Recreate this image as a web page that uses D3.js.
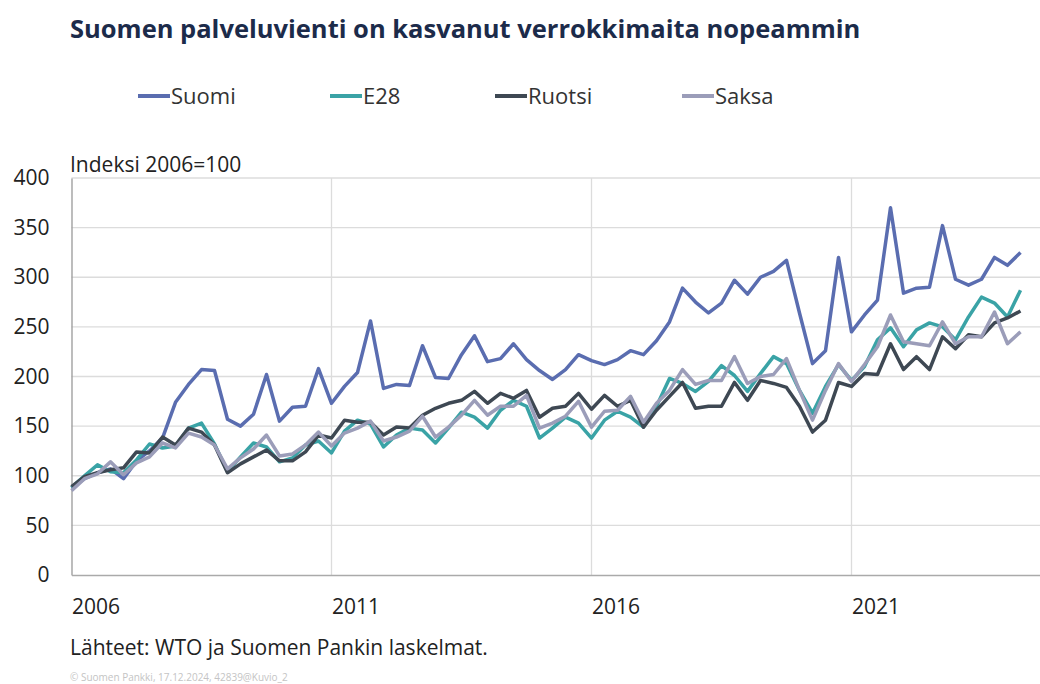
<!DOCTYPE html>
<html>
<head>
<meta charset="utf-8">
<script src="https://cdn.jsdelivr.net/npm/d3@7"></script>
<style>
  body { margin: 0; background: #fff; }
  svg { display: block; font-family: "Open Sans", sans-serif; }
</style>
</head>
<body>
<svg id="chart"></svg>
<script>
// Quarterly index values, 2006 Q1 .. 2024 Q2 (2006=100)
const startYear = 2006;
const suomi = [88, 97, 103, 107, 97, 115, 125, 138, 174, 192, 207, 206, 157, 150, 162, 202,
  155, 169, 170, 208, 173, 190, 204, 256, 188, 192, 191, 231, 199, 198, 222, 241,
  215, 218, 233, 217, 206, 197, 207, 222, 216, 212, 217, 226, 222, 236, 255, 289,
  275, 264, 274, 297, 283, 300, 306, 317, 264, 213, 226, 320, 245, 262, 277, 370,
  284, 289, 290, 352, 298, 292, 298, 320, 312, 325];
const e28 = [88, 100, 111, 104, 103, 116, 132, 128, 130, 148, 153, 132, 104, 119, 133, 129,
  114, 118, 131, 135, 123, 145, 156, 152, 129, 141, 148, 146, 133, 148, 164, 159,
  148, 166, 176, 170, 138, 148, 159, 153, 138, 156, 165, 159, 149, 170, 198, 193,
  185, 195, 211, 201, 185, 203, 220, 213, 186, 163, 190, 212, 196, 210, 237, 249,
  230, 247, 254, 250, 237, 260, 280, 274, 260, 287];
const ruotsi = [89, 99, 103, 106, 108, 124, 123, 139, 131, 148, 144, 131, 103, 112, 119, 126,
  115, 115, 124, 141, 138, 156, 154, 154, 141, 149, 148, 161, 168, 173, 176, 185,
  173, 183, 178, 186, 159, 168, 170, 183, 167, 181, 170, 176, 149, 166, 180, 194,
  168, 170, 170, 194, 176, 196, 193, 189, 170, 144, 156, 194, 190, 203, 202, 233,
  207, 220, 207, 240, 228, 242, 240, 254, 259, 266];
const saksa = [85, 97, 102, 114, 101, 113, 119, 133, 128, 143, 139, 131, 107, 118, 127, 141,
  120, 122, 131, 144, 130, 143, 148, 155, 135, 139, 145, 160, 139, 149, 161, 176,
  161, 170, 170, 181, 148, 153, 160, 175, 149, 165, 166, 180, 154, 173, 186, 207,
  192, 196, 196, 220, 193, 200, 202, 218, 186, 156, 186, 213, 195, 212, 230, 262,
  235, 233, 231, 255, 233, 240, 240, 265, 233, 245];

const seriesNames = ["Suomi", "E28", "Ruotsi", "Saksa"];
const seriesColors = ["#5a6db0", "#3aa3a6", "#3e4853", "#9b9db9"];
const yTicks = [0, 50, 100, 150, 200, 250, 300, 350, 400];
const xTicks = [2006, 2011, 2016, 2021];

const width = 1040;
const height = 684;
const svg = d3.select("#chart").attr("width", width).attr("height", height);

const x = d3.scaleLinear().domain([2006, 2024.625]).range([71.5, 1040]);
const y = d3.scaleLinear().domain([0, 400]).range([575, 178]);

// Title
svg.append("text")
  .attr("x", 70).attr("y", 38)
  .attr("font-size", 25.5).attr("font-weight", "bold")
  .attr("fill", "#1c2b4a")
  .text("Suomen palveluvienti on kasvanut verrokkimaita nopeammin");

// Legend
const legendX = [138, 330, 495, 682];
const legend = svg.append("g");
seriesNames.forEach((name, i) => {
  legend.append("line")
    .attr("x1", legendX[i]).attr("x2", legendX[i] + 32)
    .attr("y1", 96).attr("y2", 96)
    .attr("stroke", seriesColors[i]).attr("stroke-width", 4);
  legend.append("text")
    .attr("x", legendX[i] + 33).attr("y", 104)
    .attr("font-size", 22).attr("fill", "#333")
    .text(name);
});

// Gridlines
svg.append("g")
  .selectAll("line")
  .data(yTicks.filter(d => d > 0))
  .enter().append("line")
  .attr("x1", x.range()[0]).attr("x2", x.range()[1])
  .attr("y1", d => y(d)).attr("y2", d => y(d))
  .attr("stroke", "#dcdcdc").attr("stroke-width", 1.3);

svg.append("g")
  .selectAll("line")
  .data(xTicks.slice(1))
  .enter().append("line")
  .attr("x1", d => x(d)).attr("x2", d => x(d))
  .attr("y1", y(400)).attr("y2", y(0))
  .attr("stroke", "#dcdcdc").attr("stroke-width", 1.3);

// Y axis
const yAxis = svg.append("g")
  .attr("transform", `translate(${x.range()[0]},0)`)
  .call(d3.axisLeft(y).tickValues(yTicks).tickSize(0).tickPadding(22));
yAxis.select(".domain").attr("stroke", "#999").attr("stroke-width", 1.3);
yAxis.selectAll("text")
  .attr("font-size", 21).attr("fill", "#222")
  .attr("font-family", "\"Open Sans\", sans-serif");

// X axis
const xAxis = svg.append("g")
  .attr("transform", `translate(0,${y(0)})`)
  .call(d3.axisBottom(x).tickValues(xTicks).tickFormat(d3.format("d")).tickSize(0).tickPadding(24));
xAxis.select(".domain").attr("stroke", "#aaa").attr("stroke-width", 1.3);
xAxis.selectAll("text")
  .attr("font-size", 21).attr("fill", "#222")
  .attr("text-anchor", "start")
  .attr("font-family", "\"Open Sans\", sans-serif");

// Axis caption
svg.append("text")
  .attr("x", 70).attr("y", 172)
  .attr("font-size", 21).attr("fill", "#222")
  .text("Indeksi 2006=100");

// Lines
const line = d3.line()
  .x((d, i) => x(startYear + i / 4))
  .y(d => y(d));

[suomi, e28, ruotsi, saksa].forEach((values, i) => {
  svg.append("path")
    .datum(values)
    .attr("d", line)
    .attr("fill", "none")
    .attr("stroke", seriesColors[i])
    .attr("stroke-width", 3.5)
    .attr("stroke-linejoin", "round");
});

// Source and footer
svg.append("text")
  .attr("x", 70).attr("y", 655)
  .attr("font-size", 21).attr("fill", "#222")
  .text("Lähteet: WTO ja Suomen Pankin laskelmat.");

svg.append("text")
  .attr("x", 70).attr("y", 681)
  .attr("font-size", 10).attr("fill", "#c4c4c4")
  .text("© Suomen Pankki, 17.12.2024, 42839@Kuvio_2");
</script>
</body>
</html>
